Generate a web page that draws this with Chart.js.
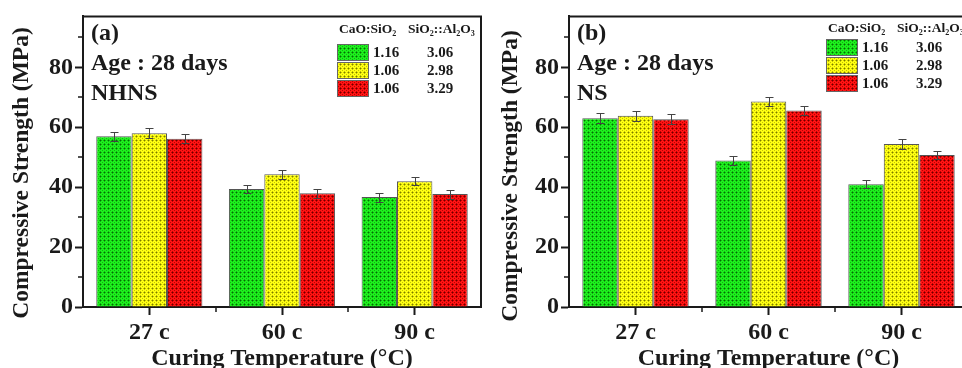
<!DOCTYPE html>
<html>
<head>
<meta charset="utf-8">
<script src="https://cdn.jsdelivr.net/npm/chart.js@4/dist/chart.umd.min.js"></script>
<style>
  html, body { margin: 0; padding: 0; background: #fff; overflow: hidden; width: 962px; height: 368px; }
  .panel { position: absolute; top: 0; }
</style>
</head>
<body>
<div class="panel" style="left:0"><canvas id="chartA" width="484" height="368"></canvas></div>
<div class="panel" style="left:480px"><canvas id="chartB" width="490" height="368"></canvas></div>
<script>
// Categories and legend table
const categories = ['27 c', '60 c', '90 c'];
const caoSio2 = ['1.16', '1.06', '1.06'];
const sio2Al2o3 = ['3.06', '2.98', '3.29'];

// (a) NHNS, compressive strength in MPa
const nhnsGreen = [57.0, 39.4, 36.7];
const nhnsYellow = [58.0, 44.3, 42.0];
const nhnsRed = [56.2, 38.0, 37.7];
const nhnsGreenErr = [1.5, 1.4, 1.5];
const nhnsYellowErr = [1.6, 1.5, 1.4];
const nhnsRedErr = [1.6, 1.5, 1.5];

// (b) NS
const nsGreen = [63.0, 48.9, 41.0];
const nsYellow = [63.8, 68.6, 54.4];
const nsRed = [62.7, 65.6, 50.7];
const nsGreenErr = [1.6, 1.5, 1.4];
const nsYellowErr = [1.6, 1.6, 1.6];
const nsRedErr = [1.7, 1.6, 1.4];

// y axis ticks (labels every 20, minor every 10)
const yTicks = [0, 10, 20, 30, 40, 50, 60, 70, 80, 90];
const yMax = 97;

const FONT = '"Liberation Serif", "Times New Roman", serif';
const INK = '#1a1a1a';

/**
 * Small dotted crosshatch tile used as bar fill
 */
function hatch(base, mid, dot) {
  const c = document.createElement('canvas');
  c.width = 4; c.height = 4;
  const g = c.getContext('2d');
  g.fillStyle = base;
  g.fillRect(0, 0, 4, 4);
  g.fillStyle = mid;
  g.fillRect(1, 0, 1, 1);
  g.fillRect(0, 1, 1, 1);
  g.fillRect(3, 0, 1, 1);
  g.fillRect(0, 3, 1, 1);
  g.fillRect(2, 2, 1, 1);
  g.fillStyle = dot;
  g.fillRect(0, 0, 1, 1);
  return g.createPattern(c, 'repeat');
}

const fills = [
  hatch('#1ef01e', '#10b410', '#066a06'),
  hatch('#ffff14', '#c4c400', '#7a7a00'),
  hatch('#ff1414', '#bc0000', '#6a0000'),
];

/**
 * Error bars, frame, minor ticks, legend table and notes
 */
const decor = {
  id: 'decor',
  afterDatasetsDraw(chart) {
    const { ctx, scales: { y } } = chart;
    ctx.save();
    ctx.strokeStyle = '#444';
    ctx.lineWidth = 1;
    chart.data.datasets.forEach((ds, i) => {
      chart.getDatasetMeta(i).data.forEach((bar, j) => {
        const v = ds.data[j], e = ds.errors[j];
        const top = Math.round(y.getPixelForValue(v + e)) + 0.5;
        const bot = Math.round(y.getPixelForValue(v - e)) + 0.5;
        const bx = Math.round(bar.x) + 0.5;
        ctx.beginPath();
        ctx.moveTo(bx, top); ctx.lineTo(bx, bot);
        ctx.moveTo(bx - 4, top); ctx.lineTo(bx + 4, top);
        ctx.moveTo(bx - 4, bot); ctx.lineTo(bx + 4, bot);
        ctx.stroke();
      });
    });
    ctx.restore();
  },
  afterDraw(chart, args, opts) {
    const { ctx, chartArea: a, scales: { x, y } } = chart;
    ctx.save();

    // top and right frame
    ctx.strokeStyle = INK;
    ctx.lineWidth = 2;
    ctx.beginPath();
    ctx.moveTo(a.left, a.top);
    ctx.lineTo(a.right, a.top);
    ctx.lineTo(a.right, a.bottom);
    ctx.stroke();

    // minor ticks
    ctx.lineWidth = 1.5;
    ctx.beginPath();
    yTicks.filter(v => v % 20 !== 0).forEach(v => {
      const py = Math.round(y.getPixelForValue(v));
      ctx.moveTo(a.left - 5, py); ctx.lineTo(a.left, py);
    });
    for (let i = 1; i < categories.length; i++) {
      const px = Math.round((x.getPixelForValue(i - 1) + x.getPixelForValue(i)) / 2);
      ctx.moveTo(px, a.bottom); ctx.lineTo(px, a.bottom + 5);
    }
    ctx.stroke();

    // y axis title
    ctx.fillStyle = INK;
    ctx.font = `bold 23.5px ${FONT}`;
    ctx.textAlign = 'center';
    ctx.textBaseline = 'middle';
    ctx.translate(opts.yTitleX, opts.yTitleY);
    ctx.rotate(-Math.PI / 2);
    ctx.fillText('Compressive Strength (MPa)', 0, 0);
    ctx.setTransform(1, 0, 0, 1, 0, 0);

    // notes
    ctx.textAlign = 'left';
    ctx.textBaseline = 'alphabetic';
    ctx.font = `bold 24px ${FONT}`;
    opts.notes.forEach((t, i) => ctx.fillText(t, opts.noteX, opts.noteY + i * 30));

    // legend table
    const L = opts.legend;
    ctx.font = `bold 13.5px ${FONT}`;
    ctx.fillText('CaO:SiO\u2082', L.x + 2, L.headY);
    ctx.fillText('SiO\u2082::Al\u2082O\u2083', L.x + 71, L.headY);
    ctx.font = `bold 15px ${FONT}`;
    ctx.textBaseline = 'middle';
    fills.forEach((f, i) => {
      const ry = L.y + i * L.step;
      ctx.fillStyle = f;
      ctx.fillRect(L.x, ry, 32, L.step - 1);
      ctx.strokeStyle = '#666';
      ctx.lineWidth = 1;
      ctx.strokeRect(L.x + 0.5, ry + 0.5, 31, L.step - 2);
      ctx.fillStyle = INK;
      ctx.textAlign = 'left';
      ctx.fillText(caoSio2[i], L.x + 36, ry + L.step / 2);
      ctx.textAlign = 'center';
      ctx.fillText(sio2Al2o3[i], L.x + 103, ry + L.step / 2);
    });
    ctx.restore();
  },
};

function makeChart(id, series, errors, axisWidth, padRight, decorOpts) {
  const ctx = document.getElementById(id).getContext('2d');
  return new Chart(ctx, {
    type: 'bar',
    data: {
      labels: categories,
      datasets: series.map((data, i) => ({
        label: `CaO:SiO2 ${caoSio2[i]}`,
        data,
        errors: errors[i],
        backgroundColor: fills[i],
        borderColor: '#555',
        borderWidth: 1,
        borderSkipped: 'bottom',
        categoryPercentage: 0.8,
        barPercentage: 1.0,
      })),
    },
    options: {
      responsive: false,
      animation: false,
      layout: { padding: { top: 12, right: padRight, left: 0, bottom: 0 } },
      plugins: {
        legend: { display: false },
        tooltip: { enabled: false },
        decor: decorOpts,
      },
      scales: {
        x: {
          grid: { display: true, drawOnChartArea: false, offset: false, tickLength: 8, tickWidth: 2, tickColor: INK },
          border: { display: true, width: 2, color: INK },
          ticks: { color: INK, padding: 3, font: { family: FONT, size: 24, weight: 'bold' } },
          title: {
            display: true,
            text: 'Curing Temperature (\u00B0C)',
            color: INK,
            padding: { top: 0, bottom: -5 },
            font: { family: FONT, size: 24, weight: 'bold' },
          },
          afterFit: s => { s.height = 61; },
        },
        y: {
          min: 0,
          max: yMax,
          afterBuildTicks: s => { s.ticks = yTicks.map(value => ({ value })); },
          grid: {
            display: true,
            drawOnChartArea: false,
            tickLength: 8,
            tickWidth: 2,
            tickColor: c => (c.tick && c.tick.value % 20 === 0 ? INK : 'rgba(0,0,0,0)'),
          },
          border: { display: true, width: 2, color: INK },
          ticks: {
            color: INK,
            padding: 2,
            font: { family: FONT, size: 24, weight: 'bold' },
            callback: v => (v % 20 === 0 ? v : ''),
          },
          afterFit: s => { s.width = axisWidth; },
        },
      },
    },
    plugins: [decor],
  });
}

makeChart('chartA', [nhnsGreen, nhnsYellow, nhnsRed], [nhnsGreenErr, nhnsYellowErr, nhnsRedErr], 83, 3, {
  yTitleX: 22, yTitleY: 173,
  noteX: 91, noteY: 40,
  notes: ['(a)', 'Age : 28 days', 'NHNS'],
  legend: { x: 337, y: 44, step: 18, headY: 33 },
});

makeChart('chartB', [nsGreen, nsYellow, nsRed], [nsGreenErr, nsYellowErr, nsRedErr], 89, 2, {
  yTitleX: 31, yTitleY: 176,
  noteX: 97, noteY: 40,
  notes: ['(b)', 'Age : 28 days', 'NS'],
  legend: { x: 346, y: 39, step: 18, headY: 32 },
});
</script>
</body>
</html>
